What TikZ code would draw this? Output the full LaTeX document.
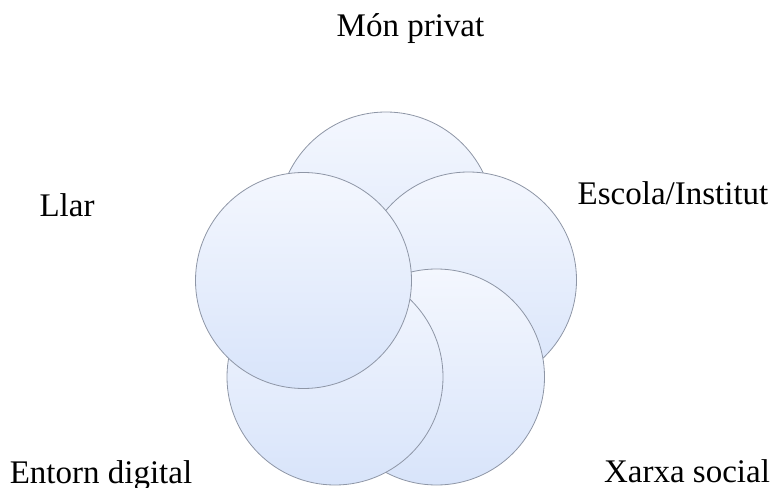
\documentclass[tikz,border=0pt]{standalone}
\usepackage{fontspec}
\setmainfont{Liberation Serif}
\begin{document}
\begin{tikzpicture}[x=1bp,y=-1bp,
  petal/.style={circle, draw=rimgray, line width=0.8bp,
    top color=petaltop, bottom color=petalbottom,
    minimum size=216bp, inner sep=0pt},
  caption/.style={anchor=base, inner sep=0pt, text=black,
    font=\fontsize{33bp}{40bp}\selectfont}]
\definecolor{rimgray}{RGB}{142,150,166}
\definecolor{petaltop}{RGB}{244,247,254}
\definecolor{petalbottom}{RGB}{216,228,250}
\useasboundingbox (0,0) rectangle (777,488);
% five overlapping circles in a pentagon, drawn back to front
\node[petal] (prive) at (386,220) {};
\node[petal] (escola) at (468.5,280) {};
\node[petal] (xarxa) at (436.5,377) {};
\node[petal] (entorn) at (335,377) {};
\node[petal] (llar) at (303.5,280.5) {};
% labels around the cluster
\node[caption] (tprive) at (410.5,37) {Món privat};
\node[caption] (tescola) at (673,205) {Escola/Institut};
\node[caption] (tllar) at (67,217) {Llar};
\node[caption] (txarxa) at (687,482) {Xarxa social};
\node[caption] (tentorn) at (101,483) {Entorn digital};
\end{tikzpicture}
\end{document}
